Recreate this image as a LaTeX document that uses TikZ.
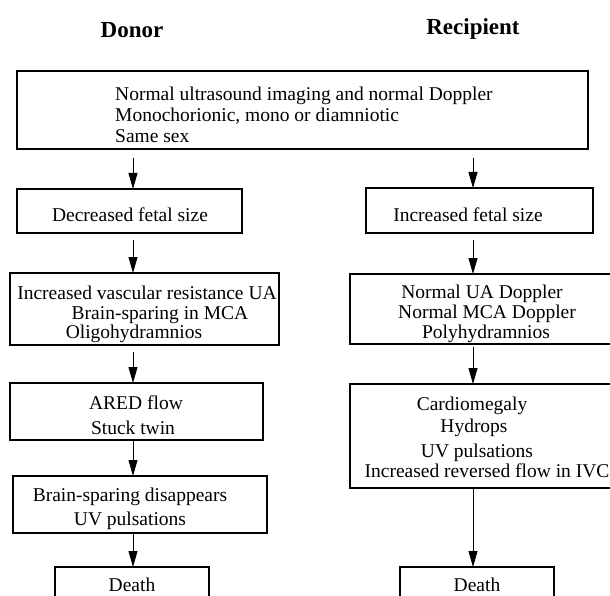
\documentclass[tikz,border=0pt]{standalone}
\usepackage{fontspec}
\setmainfont{Liberation Serif}
\usetikzlibrary{arrows.meta}
\begin{document}
\begin{tikzpicture}[x=1pt,y=-1pt,
  box/.style={draw, line width=1.1pt, inner sep=0pt, outer sep=0pt},
  txt/.style={inner sep=0pt, anchor=base, font=\fontsize{19.5}{21}\selectfont},
  ltxt/.style={txt, anchor=base west},
  head/.style={inner sep=0pt, anchor=base, font=\fontsize{23}{26}\selectfont\bfseries},
  arr/.style={line width=0.8pt, -{Triangle[length=16pt,width=9pt]}}]
\useasboundingbox (0,0) rectangle (610,596);
\fill[white] (0,0) rectangle (610,596);
% headers
\node[head] (hd) at (132,38) {Donor};
\node[head] (hr) at (473,35) {Recipient};
% boxes
\node[box, minimum width=571pt, minimum height=78pt] (top) at (302.5,110) {};
\node[box, minimum width=225pt, minimum height=44pt] (L1) at (129.5,211) {};
\node[box, minimum width=227pt, minimum height=45pt] (R1) at (479.5,210.5) {};
\node[box, minimum width=269pt, minimum height=72pt] (L2) at (144.5,309) {};
\node[box, minimum width=264pt, minimum height=70pt] (R2) at (482,309) {};
\node[box, minimum width=253pt, minimum height=57pt] (L3) at (136.5,411.5) {};
\node[box, minimum width=264pt, minimum height=104pt] (R3) at (482,436) {};
\node[box, minimum width=254pt, minimum height=57pt] (L4) at (140,504.5) {};
\node[box, minimum width=154pt, minimum height=38pt] (L5) at (132,586) {};
\node[box, minimum width=154pt, minimum height=38pt] (R5) at (477,586) {};
% texts
\node[ltxt] (t1) at (115,101) {Normal ultrasound imaging and normal Doppler};
\node[ltxt] (t2) at (115,122) {Monochorionic, mono or diamniotic};
\node[ltxt] (t3) at (115,143) {Same sex};
\node[txt] (l1) at (130,222) {Decreased fetal size};
\node[txt] (r1) at (468,222) {Increased fetal size};
\node[txt] (l2a) at (147,299) {Increased vascular resistance UA};
\node[txt] (l2b) at (160,319) {Brain-sparing in MCA};
\node[txt] (l2c) at (134,338) {Oligohydramnios};
\node[txt] (r2a) at (482,298) {Normal UA Doppler};
\node[txt] (r2b) at (487,318) {Normal MCA Doppler};
\node[txt] (r2c) at (486,338) {Polyhydramnios};
\node[txt] (l3a) at (136,409) {ARED flow};
\node[txt] (l3b) at (133,434) {Stuck twin};
\node[txt] (r3a) at (472,410) {Cardiomegaly};
\node[txt] (r3b) at (474,432) {Hydrops};
\node[txt] (r3c) at (477,457) {UV pulsations};
\node[txt] (r3d) at (487,477) {Increased reversed flow in IVC};
\node[txt] (l4a) at (130,501) {Brain-sparing disappears};
\node[txt] (l4b) at (130,525) {UV pulsations};
\node[txt] (l5) at (132,591) {Death};
\node[txt] (r5) at (477,591) {Death};
% column lines
\coordinate (xL) at (133,0);
\coordinate (xR) at (473,0);
% arrows
\draw[arr, shorten <=9pt] (top.south -| xL) -- (L1.north -| xL);
\draw[arr, shorten <=7pt] (L1.south -| xL) -- (L2.north -| xL);
\draw[arr, shorten <=7pt] (L2.south -| xL) -- (L3.north -| xL);
\draw[arr] (L3.south -| xL) -- (L4.north -| xL);
\draw[arr] (L4.south -| xL) -- (L5.north -| xL);
\draw[arr, shorten <=9pt] (top.south -| xR) -- (R1.north -| xR);
\draw[arr, shorten <=7pt] (R1.south -| xR) -- (R2.north -| xR);
\draw[arr, shorten <=3pt] (R2.south -| xR) -- (R3.north -| xR);
\draw[arr] (R3.south -| xR) -- (R5.north -| xR);
\end{tikzpicture}
\end{document}
